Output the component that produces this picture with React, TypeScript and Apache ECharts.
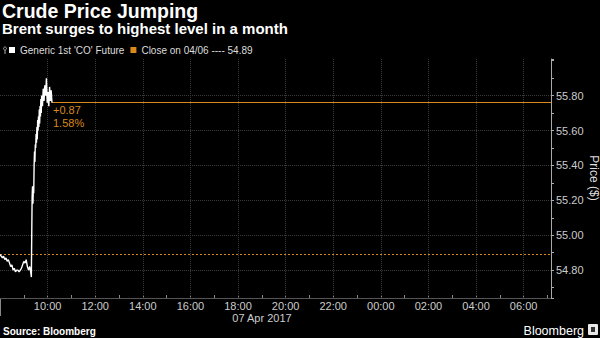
import React, { useEffect, useRef } from "react";
import * as echarts from "echarts";

// ---- data ----
const times: string[] = [
  "08:00", "08:03", "08:06", "08:09", "08:12", "08:15", "08:18", "08:21", "08:24", "08:27",
  "08:30", "08:33", "08:36", "08:39", "08:42", "08:45", "08:48", "08:51", "08:54", "08:57",
  "09:00", "09:03", "09:06", "09:09", "09:12", "09:15", "09:18", "09:19",
  "09:20", "09:21", "09:22", "09:23", "09:24", "09:25", "09:26", "09:27", "09:28", "09:29",
  "09:30", "09:31", "09:32", "09:33", "09:34", "09:35", "09:36", "09:37", "09:38", "09:39",
  "09:40", "09:41", "09:42", "09:43", "09:44", "09:45", "09:47", "09:49", "09:51", "09:53",
  "09:55", "09:57", "09:59", "10:01", "10:03", "10:05", "10:07", "10:09", "10:11",
];
const prices: number[] = [
  54.89, 54.88, 54.87, 54.88, 54.86, 54.87, 54.85, 54.86, 54.84, 54.82,
  54.83, 54.8, 54.81, 54.79, 54.8, 54.8, 54.79, 54.8, 54.81, 54.83,
  54.85, 54.84, 54.86, 54.82, 54.8, 54.82, 54.78, 54.76,
  55.0, 55.22, 55.28, 55.18, 55.26, 55.24, 55.4, 55.48, 55.42, 55.52,
  55.5, 55.58, 55.53, 55.62, 55.55, 55.66, 55.6, 55.68, 55.62, 55.72,
  55.64, 55.74, 55.68, 55.78, 55.7, 55.8, 55.74, 55.84, 55.77, 55.86,
  55.8, 55.9, 55.76, 55.82, 55.74, 55.85, 55.77, 55.83, 55.76,
];
const seriesName = "Generic 1st 'CO' Future";
const closeName = "Close on 04/06 ---- 54.89";
const closePrev = 54.89;
const lastPrice = 55.76;
const changeText = "+0.87";
const changePctText = "1.58%";
const gridHours: number[] = [10, 12, 14, 16, 18, 20, 22, 24, 26, 28, 30];
const gridPrices: number[] = [54.8, 55.0, 55.2, 55.4, 55.6, 55.8];
const xMin = 8;
const xMax = 31.15;
const yMin = 54.64;
const yMax = 56.01;
const yLabelMax = 55.8;

const ORANGE = "#d9881c";
const FONT = "'Liberation Sans', Arial, sans-serif";

function toHours(t: string): number {
  const [h, m] = t.split(":").map(Number);
  return h + m / 60;
}

function hourLabel(v: number): string {
  const h = Math.round(v);
  if (Math.abs(v - h) > 1e-6 || h % 2 !== 0 || h < 10 || h > 30) return "";
  const hh = h % 24;
  return (hh < 10 ? "0" : "") + hh + ":00";
}

export default function App() {
  const ref = useRef<HTMLDivElement>(null);

  useEffect(() => {
    document.body.style.margin = "0";
    document.body.style.background = "#000";
    if (!ref.current) return;
    const chart = echarts.init(ref.current, undefined, { renderer: "svg" });
    const lineData = times.map((t, i) => [toHours(t), prices[i]]);
    const lastX = toHours(times[times.length - 1]);

    const gridLineStyle = { color: "#3a3a3a", type: "dotted" as const, width: 1 };

    chart.setOption({
      animation: false,
      backgroundColor: "#000",
      textStyle: { fontFamily: FONT },
      grid: { left: 0, right: 49, top: 59, bottom: 40, containLabel: false },
      legend: {
        data: [seriesName, closeName],
        left: 9,
        top: 45,
        padding: 0,
        icon: "rect",
        itemWidth: 6,
        itemHeight: 6,
        itemGap: 6,
        itemTextGap: 3,
        selectedMode: false,
        textStyle: { color: "#dddddd", fontSize: 10, fontFamily: FONT },
      },
      xAxis: {
        type: "value",
        min: xMin,
        max: xMax,
        interval: 1,
        axisLine: { show: true, lineStyle: { color: "#555", width: 1 } },
        axisTick: { show: true, inside: true, length: 3, lineStyle: { color: "#888" } },
        splitLine: { show: false },
        axisLabel: {
          color: "#cccccc",
          fontSize: 11,
          fontFamily: FONT,
          margin: 2,
          showMinLabel: false,
          showMaxLabel: false,
          formatter: (v: number) => hourLabel(v),
        },
      },
      yAxis: {
        type: "value",
        position: "right",
        min: yMin,
        max: yMax,
        splitNumber: 7,
        axisLine: { show: true, lineStyle: { color: "#aaaaaa", width: 1 } },
        axisTick: { show: true, length: 3, lineStyle: { color: "#aaaaaa" } },
        minorTick: { show: true, splitNumber: 2, length: 3, lineStyle: { color: "#aaaaaa" } },
        splitLine: { show: false },
        axisLabel: {
          color: "#cccccc",
          fontSize: 11,
          fontFamily: FONT,
          margin: 5,
          showMinLabel: false,
          showMaxLabel: false,
          formatter: (v: number) => (v > yLabelMax + 1e-6 ? "" : v.toFixed(2)),
        },
      },
      series: [
        {
          name: "grid",
          type: "line",
          data: [],
          silent: true,
          markLine: {
            silent: true,
            symbol: "none",
            label: { show: false },
            lineStyle: gridLineStyle,
            data: [
              ...gridHours.map((h) => ({ xAxis: h })),
              ...gridPrices.map((p) => ({ yAxis: p })),
            ],
          },
        },
        {
          name: closeName,
          type: "line",
          data: [],
          color: ORANGE,
          itemStyle: { color: ORANGE },
          markLine: {
            silent: true,
            symbol: "none",
            label: { show: false },
            data: [
              { yAxis: closePrev, lineStyle: { color: ORANGE, type: [2, 2], width: 1 } },
              [
                { coord: [lastX, lastPrice], lineStyle: { color: ORANGE, type: "solid", width: 1 } },
                { coord: [xMax, lastPrice] },
              ],
            ],
          },
        },
        {
          name: seriesName,
          type: "line",
          data: lineData,
          color: "#ffffff",
          itemStyle: { color: "#ffffff" },
          showSymbol: false,
          symbol: "none",
          lineStyle: { color: "#ffffff", width: 1.4 },
          z: 5,
        },
      ],
      graphic: [
        {
          type: "text",
          x: 2,
          y: 10.5,
          style: {
            text: "Crude Price Jumping",
            fill: "#ffffff",
            font: `bold 19.5px ${FONT}`,
            verticalAlign: "middle",
          },
        },
        {
          type: "text",
          x: 2,
          y: 28.5,
          style: {
            text: "Brent surges to highest level in a month",
            fill: "#ffffff",
            font: `bold 15px ${FONT}`,
            verticalAlign: "middle",
          },
        },
        {
          type: "text",
          x: 594,
          y: 178,
          rotation: -Math.PI / 2,
          style: {
            text: "Price ($)",
            fill: "#dddddd",
            font: `12px ${FONT}`,
            align: "center",
            verticalAlign: "middle",
          },
        },
        {
          type: "circle",
          shape: { cx: 5, cy: 48.5, r: 1.5 },
          style: { fill: "none", stroke: "#aaaaaa", lineWidth: 1 },
        },
        {
          type: "line",
          shape: { x1: 5, y1: 50, x2: 5, y2: 54 },
          style: { stroke: "#aaaaaa", lineWidth: 1 },
        },
        {
          type: "text",
          x: 53,
          y: 110,
          style: { text: changeText, fill: ORANGE, font: `11px ${FONT}`, verticalAlign: "middle" },
        },
        {
          type: "text",
          x: 53,
          y: 123,
          style: { text: changePctText, fill: ORANGE, font: `11px ${FONT}`, verticalAlign: "middle" },
        },
        {
          type: "line",
          shape: { x1: 0.5, y1: 298, x2: 0.5, y2: 316 },
          style: { stroke: "#888888", lineWidth: 1 },
        },
        {
          type: "text",
          x: 262,
          y: 317.5,
          style: {
            text: "07 Apr 2017",
            fill: "#cccccc",
            font: `11px ${FONT}`,
            align: "center",
            verticalAlign: "middle",
          },
        },
        {
          type: "text",
          x: 3,
          y: 331,
          style: {
            text: "Source: Bloomberg",
            fill: "#ffffff",
            font: `bold 10px ${FONT}`,
            verticalAlign: "middle",
          },
        },
        {
          type: "text",
          x: 584,
          y: 330.5,
          style: {
            text: "Bloomberg",
            fill: "#ffffff",
            font: `12.5px ${FONT}`,
            align: "right",
            verticalAlign: "middle",
          },
        },
        {
          type: "rect",
          shape: { x: 588, y: 324, width: 10, height: 11, r: 1 },
          style: { fill: "#e8e8e8" },
        },
        {
          type: "rect",
          shape: { x: 591, y: 327, width: 4, height: 5 },
          style: { fill: "#333333" },
        },
      ],
    });
    return () => chart.dispose();
  }, []);

  return (
    <div
      ref={ref}
      style={{ position: "fixed", left: 0, top: 0, width: 600, height: 338, background: "#000" }}
    />
  );
}
